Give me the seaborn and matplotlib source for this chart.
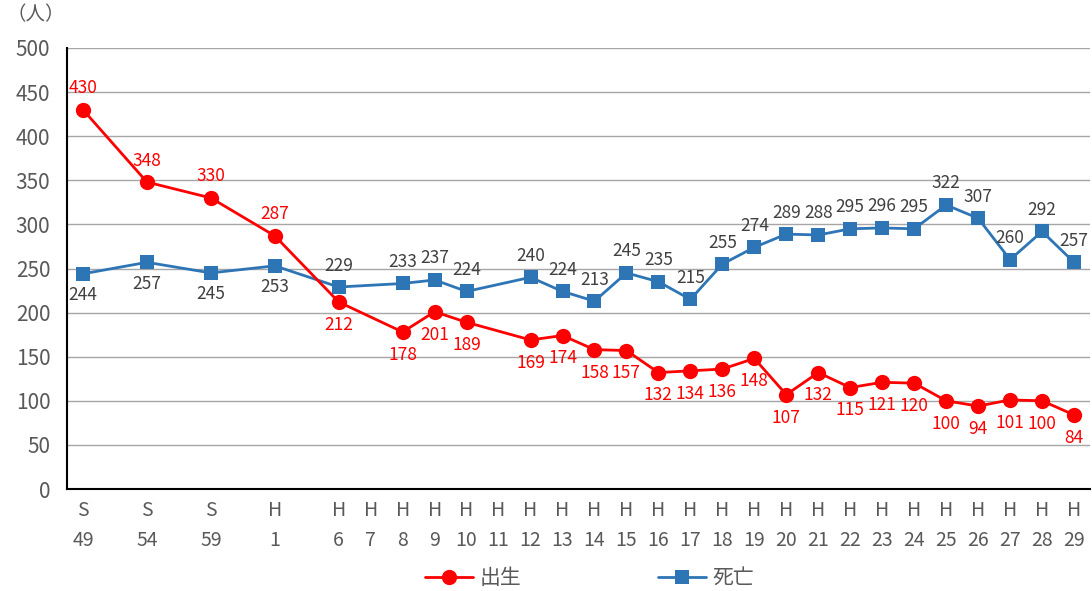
import numpy as np
import pandas as pd
import matplotlib
matplotlib.use('Agg')
import matplotlib.pyplot as plt
import seaborn as sns

# 年次（空欄はExcel上の空カテゴリ）
categories = ['S\n49', '', 'S\n54', '', 'S\n59', '', 'H\n1', '', 'H\n6', 'H\n7', 'H\n8', 'H\n9',
              'H\n10', 'H\n11', 'H\n12', 'H\n13', 'H\n14', 'H\n15', 'H\n16', 'H\n17', 'H\n18',
              'H\n19', 'H\n20', 'H\n21', 'H\n22', 'H\n23', 'H\n24', 'H\n25', 'H\n26', 'H\n27',
              'H\n28', 'H\n29']

# 出生（人）
births = [430, None, 348, None, 330, None, 287, None, 212, None, 178, 201, 189, None, 169, 174,
          158, 157, 132, 134, 136, 148, 107, 132, 115, 121, 120, 100, 94, 101, 100, 84]
# 死亡（人）
deaths = [244, None, 257, None, 245, None, 253, None, 229, None, 233, 237, 224, None, 240, 224,
          213, 245, 235, 215, 255, 274, 289, 288, 295, 296, 295, 322, 307, 260, 292, 257]

df = pd.DataFrame({'pos': np.arange(len(categories)), 'births': births, 'deaths': deaths})

sns.set_style('white')
plt.rcParams['font.family'] = ['Noto Sans CJK JP', 'DejaVu Sans']

red = '#FF0000'
blue = '#2E75B6'

fig = plt.figure(figsize=(10.92, 5.91), dpi=100)
ax = fig.add_axes([67 / 1092, (591 - 489) / 591, (1090 - 67) / 1092, (489 - 48) / 591])

d_b = df.dropna(subset=['births'])
d_d = df.dropna(subset=['deaths'])

sns.lineplot(data=d_d, x='pos', y='deaths', color=blue, marker='s', markersize=10,
             markeredgewidth=0, linewidth=2, ax=ax, zorder=3)
sns.lineplot(data=d_b, x='pos', y='births', color=red, marker='o', markersize=11,
             markeredgewidth=0, linewidth=2, ax=ax, zorder=4)

# データラベル
for i, (p, v) in enumerate(zip(d_b['pos'], d_b['births'])):
    dy = 9 if i < 4 else -10
    va = 'bottom' if i < 4 else 'top'
    ax.annotate(f'{int(v)}', (p, v), xytext=(0, dy), textcoords='offset points',
                ha='center', va=va, color=red, fontsize=12.5)
for i, (p, v) in enumerate(zip(d_d['pos'], d_d['deaths'])):
    dy = -9 if i < 4 else 9
    va = 'top' if i < 4 else 'bottom'
    ax.annotate(f'{int(v)}', (p, v), xytext=(0, dy), textcoords='offset points',
                ha='center', va=va, color='#404040', fontsize=12.5)

ax.set_xlim(-0.5, len(categories) - 0.5)
ax.set_ylim(0, 500)
ax.set_yticks(range(0, 501, 50))
ax.set_xticks(df['pos'])
ax.set_xticklabels(categories)
ax.set_xlabel('')
ax.set_ylabel('')
ax.tick_params(axis='y', labelsize=15, labelcolor='#595959', length=0, pad=12)
ax.tick_params(axis='x', labelsize=14, labelcolor='#595959', length=0, pad=8)
for lab in ax.get_xticklabels():
    lab.set_linespacing(1.55)

ax.grid(axis='y', color='#A6A6A6', linewidth=1)
ax.set_axisbelow(True)
for s in ['top', 'right']:
    ax.spines[s].set_visible(False)
ax.spines['left'].set_color('black')
ax.spines['bottom'].set_color('black')
ax.spines['left'].set_linewidth(1.5)
ax.spines['bottom'].set_linewidth(1.5)

fig.text(6 / 1092, 1 - 15 / 591, '（人）', fontsize=14, color='#595959', va='center', ha='left')

# 凡例
handles = [plt.Line2D([], [], color=red, marker='o', markersize=11, markeredgewidth=0, linewidth=2),
           plt.Line2D([], [], color=blue, marker='s', markersize=10, markeredgewidth=0, linewidth=2)]
leg = fig.legend(handles, ['出生', '死亡'], loc='center', bbox_to_anchor=(0.540, 1 - 578 / 591),
                 ncol=2, frameon=False, fontsize=15, handlelength=2.3, columnspacing=6.6,
                 handletextpad=0.3)
for t in leg.get_texts():
    t.set_color('#595959')

fig.savefig('out.png', dpi=100)
